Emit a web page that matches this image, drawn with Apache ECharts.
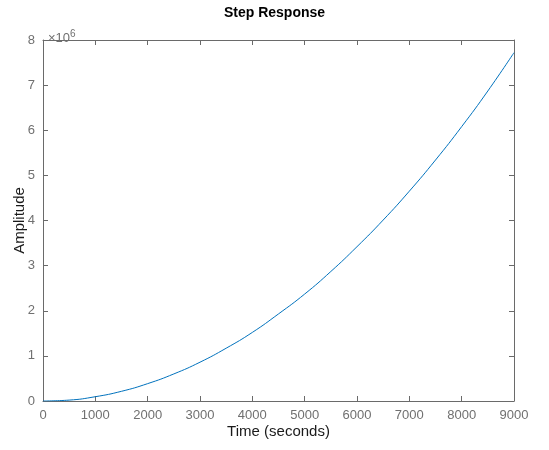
<!DOCTYPE html>
<html>
<head>
<meta charset="utf-8">
<script src="https://cdn.jsdelivr.net/npm/echarts@6/dist/echarts.min.js"></script>
<style>html,body{margin:0;padding:0;background:#fff}#c{width:549px;height:450px}</style>
</head>
<body>
<div id="c"></div>
<script>
var titleText = 'Step Response';
var xLabel = 'Time (seconds)';
var yLabel = 'Amplitude';
var time = [0, 500, 1000, 1500, 2000, 2500, 3000, 3500, 4000, 4500, 5000, 5500, 6000, 6500, 7000, 7500, 8000, 8500, 9000];
var amplitudeMillions = [0, 0.02, 0.095, 0.215, 0.385, 0.6, 0.86, 1.17, 1.52, 1.93, 2.37, 2.87, 3.42, 4.01, 4.65, 5.34, 6.08, 6.87, 7.72];
var xTicks = [0, 1000, 2000, 3000, 4000, 5000, 6000, 7000, 8000, 9000];
var yTicks = [0, 1, 2, 3, 4, 5, 6, 7, 8];

var FONT = "'Liberation Sans', Arial, Helvetica, sans-serif";
var AX = '#6a6a6a';
var LBL = '#707070';
var data = time.map(function (t, i) { return [t, amplitudeMillions[i]]; });

function xa(pos, show) {
  return {
    type: 'value', position: pos, min: xTicks[0], max: xTicks[xTicks.length - 1], interval: 1000,
    axisLine: { show: true, onZero: false, lineStyle: { color: AX, width: 1 } },
    axisTick: { show: true, inside: true, length: 5, lineStyle: { color: AX } },
    axisLabel: { show: show, color: LBL, fontSize: 13, fontFamily: FONT, margin: 8, formatter: function (v) { return String(v); } },
    splitLine: { show: false }
  };
}
function ya(pos, show) {
  return {
    type: 'value', position: pos, min: yTicks[0], max: yTicks[yTicks.length - 1], interval: 1,
    axisLine: { show: true, onZero: false, lineStyle: { color: AX, width: 1 } },
    axisTick: { show: true, inside: true, length: 5, lineStyle: { color: AX } },
    axisLabel: { show: show, color: LBL, fontSize: 13, fontFamily: FONT, margin: 8, formatter: function (v) { return String(v); } },
    splitLine: { show: false }
  };
}

var xb = xa('bottom', true);
xb.name = xLabel; xb.nameLocation = 'middle'; xb.nameGap = 23; xb.nameMoveOverlap = false;
xb.nameTextStyle = { color: '#1a1a1a', fontSize: 15, fontFamily: FONT };
var yl = ya('left', true);
yl.name = yLabel; yl.nameLocation = 'middle'; yl.nameGap = 16; yl.nameMoveOverlap = false;
yl.nameTextStyle = { color: '#1a1a1a', fontSize: 15, fontFamily: FONT };

var chart = echarts.init(document.getElementById('c'), null, { renderer: 'canvas' });
chart.setOption({
  animation: false,
  backgroundColor: '#ffffff',
  title: [
    { text: titleText, left: 'center', top: 1, textStyle: { fontSize: 14, fontWeight: 'bold', color: '#000', fontFamily: FONT } },
    { text: '{a|×10}{s|6}', left: 43, top: 24, textStyle: { fontWeight: 'normal', rich: {
      a: { fontSize: 13, fontWeight: 'normal', color: LBL, fontFamily: FONT, verticalAlign: 'bottom' },
      s: { fontSize: 10, fontWeight: 'normal', color: LBL, fontFamily: FONT, verticalAlign: 'top', padding: [0, 0, 6, 0] }
    } } }
  ],
  grid: { left: 43, right: 35, top: 40, bottom: 49, containLabel: false, outerBoundsMode: 'none' },
  xAxis: [xb, xa('top', false)],
  yAxis: [yl, ya('right', false)],
  series: [{
    type: 'line', xAxisIndex: 0, yAxisIndex: 0, data: data, smooth: true, showSymbol: false, symbol: 'none',
    lineStyle: { color: '#0072BD', width: 1 }
  }]
});
</script>
</body>
</html>
